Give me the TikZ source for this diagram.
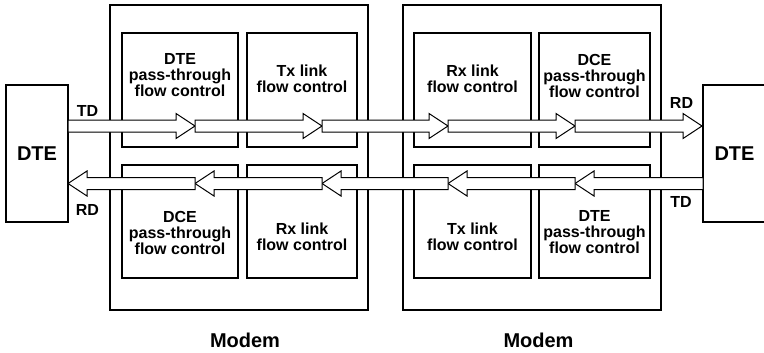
\documentclass[tikz,border=0pt]{standalone}
\usepackage{fontspec}
\setmainfont{Liberation Sans}
\usetikzlibrary{calc}

% hollow block arrow from #1 (tail) to #2 (tip)
\newcommand{\flowarrow}[2]{%
  \draw[flow] ($(#1)+(0,6)$) -- ($(#2)!19bp!(#1)+(0,6)$) -- ($(#2)!19bp!(#1)+(0,12.5)$) -- (#2)
    -- ($(#2)!19bp!(#1)+(0,-12.5)$) -- ($(#2)!19bp!(#1)+(0,-6)$) -- ($(#1)+(0,-6)$) -- cycle;}

\begin{document}
\begin{tikzpicture}[x=1bp, y=1bp,
  modem/.style={draw, line width=1.8bp, minimum width=258bp, minimum height=305bp, inner sep=0},
  fcbox/.style={draw, line width=1.5bp, minimum height=114bp, inner sep=0},
  dte/.style={draw, line width=1.6bp, minimum width=62bp, minimum height=137bp, inner sep=0,
    font=\fontsize{20bp}{20bp}\selectfont\bfseries},
  fctext/.style={align=center, inner sep=0, font=\fontsize{16bp}{16bp}\selectfont\bfseries},
  sig/.style={inner sep=0, font=\fontsize{16bp}{16bp}\selectfont\bfseries},
  flow/.style={draw, fill=white, line width=1bp, line join=miter}]
\useasboundingbox (0,0) rectangle (764,352);

% end stations
\node[dte] (dteL) at (37,198.5) {DTE};
\node[dte, minimum width=63bp] (dteR) at (734.5,198.5) {DTE};

% modems
\node[modem] (modemA) at (239,194.5) {};
\node[modem] (modemB) at (532,194.5) {};
\node[sig, font=\fontsize{20bp}{20bp}\selectfont\bfseries] (modemAlbl) at (245,12) {Modem};
\node[sig, font=\fontsize{20bp}{20bp}\selectfont\bfseries] (modemBlbl) at (538.5,12) {Modem};

% flow control blocks, first modem
\node[fcbox, minimum width=116bp] (aTop1) at (180,262) {};
\node[fcbox, minimum width=110bp] (aTop2) at (302,262) {};
\node[fcbox, minimum width=116bp, minimum height=113bp] (aBot1) at (180,130.5) {};
\node[fcbox, minimum width=110bp, minimum height=113bp] (aBot2) at (302,130.5) {};
\node[fctext] (aTop1txt) at (180,276.5) {DTE\\pass-through\\flow control};
\node[fctext] (aTop2txt) at (302,273) {Tx link\\flow control};
\node[fctext] (aBot1txt) at (180,119.5) {DCE\\pass-through\\flow control};
\node[fctext] (aBot2txt) at (302,115.5) {Rx link\\flow control};

% flow control blocks, second modem
\node[fcbox, minimum width=117bp] (bTop1) at (472.5,262) {};
\node[fcbox, minimum width=111bp] (bTop2) at (594.5,262) {};
\node[fcbox, minimum width=117bp, minimum height=113bp] (bBot1) at (472.5,130.5) {};
\node[fcbox, minimum width=111bp, minimum height=113bp] (bBot2) at (594.5,130.5) {};
\node[fctext] (bTop1txt) at (472.5,273) {Rx link\\flow control};
\node[fctext] (bTop2txt) at (594.5,276.5) {DCE\\pass-through\\flow control};
\node[fctext] (bBot1txt) at (472.5,115.5) {Tx link\\flow control};
\node[fctext] (bBot2txt) at (594.5,119.5) {DTE\\pass-through\\flow control};

% data path, left to right
\coordinate (t0) at (68,226);
\coordinate (t1) at (195,226);
\coordinate (t2) at (322,226);
\coordinate (t3) at (448,226);
\coordinate (t4) at (575,226);
\coordinate (t5) at (702,226);
\flowarrow{t0}{t1}
\flowarrow{t1}{t2}
\flowarrow{t2}{t3}
\flowarrow{t3}{t4}
\flowarrow{t4}{t5}

% data path, right to left
\coordinate (r0) at (68,168.5);
\coordinate (r1) at (195,168.5);
\coordinate (r2) at (322,168.5);
\coordinate (r3) at (448,168.5);
\coordinate (r4) at (575,168.5);
\coordinate (r5) at (703,168.5);
\flowarrow{r5}{r4}
\flowarrow{r4}{r3}
\flowarrow{r3}{r2}
\flowarrow{r2}{r1}
\flowarrow{r1}{r0}

% signal names
\node[sig] (tdL) at (87.5,241.5) {TD};
\node[sig] (rdL) at (87.5,142) {RD};
\node[sig] (rdR) at (681.5,249.5) {RD};
\node[sig] (tdR) at (681,150) {TD};
\end{tikzpicture}
\end{document}
